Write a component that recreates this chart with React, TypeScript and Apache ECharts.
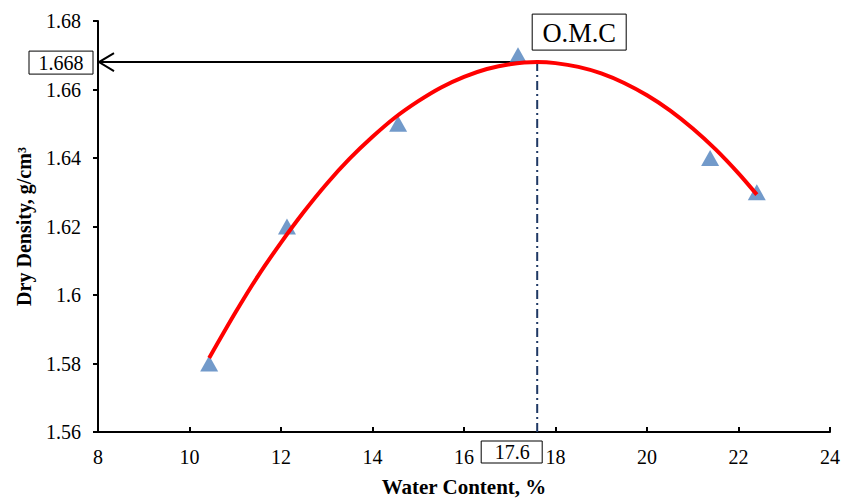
import React, { useEffect, useRef } from "react";
import * as echarts from "echarts";

const waterContent = [10.43, 12.13, 14.56, 17.18, 21.38, 22.4];
const dryDensity = [1.58, 1.62, 1.65, 1.67, 1.64, 1.63];

// fitted trendline
const curveX = [10.43, 11, 11.5, 12, 12.5, 13, 13.5, 14, 14.5, 15, 15.5, 16, 16.5, 17, 17.6, 18, 18.5, 19, 19.5, 20, 20.5, 21, 21.5, 22, 22.4];
const curveY = [1.5816, 1.5948, 1.6056, 1.6153, 1.6243, 1.6325, 1.6398, 1.6462, 1.6519, 1.6566, 1.6606, 1.6637, 1.6660, 1.6674, 1.668, 1.6677, 1.6666, 1.6647, 1.6619, 1.6583, 1.6539, 1.6486, 1.6425, 1.6355, 1.6293];

const OMC = 17.6;
const MDD = 1.668;
const xTicks = [8, 10, 12, 14, 16, 18, 20, 22, 24];
const yTicks = [1.56, 1.58, 1.6, 1.62, 1.64, 1.66, 1.68];

const FONT = "'Liberation Serif', 'Times New Roman', serif";

export default function App() {
  const ref = useRef<HTMLDivElement>(null);
  useEffect(() => {
    const chart = echarts.init(ref.current!, null, { renderer: "svg" });
    const option: any = {
      animation: false,
      textStyle: { fontFamily: FONT },
      grid: { left: 98, right: 12, top: 21, bottom: 66, containLabel: false, outerBoundsMode: "none" },
      xAxis: {
        type: "value",
        min: xTicks[0],
        max: xTicks[xTicks.length - 1],
        interval: 2,
        name: "Water Content, %",
        nameLocation: "middle",
        nameGap: 44,
        nameTextStyle: { fontFamily: FONT, fontWeight: "bold", fontSize: 21, color: "#000" },
        axisLine: { lineStyle: { color: "#000", width: 2 } },
        axisTick: { inside: true, length: 5, lineStyle: { color: "#000", width: 2 } },
        axisLabel: { fontFamily: FONT, fontSize: 20, color: "#000", margin: 15 },
        splitLine: { show: false },
      },
      yAxis: {
        type: "value",
        min: yTicks[0],
        max: yTicks[yTicks.length - 1],
        interval: 0.02,
        name: "Dry Density, g/cm³",
        nameLocation: "middle",
        nameGap: 64,
        nameTextStyle: { fontFamily: FONT, fontWeight: "bold", fontSize: 20, color: "#000" },
        axisLine: { show: true, lineStyle: { color: "#000", width: 2 } },
        axisTick: { show: true, inside: false, length: 5, lineStyle: { color: "#000", width: 2 } },
        axisLabel: {
          fontFamily: FONT,
          fontSize: 20,
          color: "#000",
          margin: 17,
          formatter: (v: number) => String(Number(v.toFixed(2))),
        },
        splitLine: { show: false },
      },
      series: [
        {
          type: "line",
          data: [
            [OMC, MDD],
            [xTicks[0], MDD],
          ],
          symbol: "none",
          lineStyle: { color: "#000", width: 2 },
          z: 3,
        },
        {
          type: "line",
          data: [
            [OMC, yTicks[0]],
            [OMC, MDD],
          ],
          symbol: "none",
          lineStyle: { color: "#1F3864", width: 2, type: [9, 4, 2, 4] },
          z: 3,
        },
        {
          type: "scatter",
          data: waterContent.map((x, i) => [x, dryDensity[i]]),
          symbol: "triangle",
          symbolSize: [18, 16],
          itemStyle: { color: "#4F81BD" },
          z: 4,
        },
        {
          type: "line",
          data: curveX.map((x, i) => [x, curveY[i]]),
          smooth: 0.3,
          symbol: "none",
          lineStyle: { color: "#FF0000", width: 4 },
          z: 5,
        },
      ],
    };
    chart.setOption(option);

    const [px, py] = chart.convertToPixel({ gridIndex: 0 }, [OMC, MDD]);
    const [ax, ay] = chart.convertToPixel({ gridIndex: 0 }, [xTicks[0], MDD]);
    const [bx, by] = chart.convertToPixel({ gridIndex: 0 }, [OMC, yTicks[0]]);

    chart.setOption({
      graphic: [
        {
          type: "polyline",
          shape: { points: [[ax + 16, ay - 9], [ax + 1, ay], [ax + 16, ay + 9]] },
          style: { stroke: "#000", lineWidth: 2, fill: "none" },
          z: 10,
        },
        {
          type: "rect",
          shape: { x: ax - 69, y: ay - 11, width: 64, height: 23 },
          style: { stroke: "#000", lineWidth: 1, fill: "#fff" },
          z: 10,
        },
        {
          type: "text",
          x: ax - 37,
          y: ay + 1,
          style: {
            text: String(MDD),
            font: `20px ${FONT}`,
            fill: "#000",
            align: "center",
            verticalAlign: "middle",
          },
          z: 11,
        },
        {
          type: "rect",
          shape: { x: px - 5, y: py - 48, width: 94, height: 36 },
          style: { stroke: "#000", lineWidth: 1, fill: "#fff" },
          z: 10,
        },
        {
          type: "text",
          x: px + 42,
          y: py - 29,
          style: {
            text: "O.M.C",
            font: `26.5px ${FONT}`,
            fill: "#000",
            align: "center",
            verticalAlign: "middle",
          },
          z: 11,
        },
        {
          type: "rect",
          shape: { x: bx - 56, y: by + 9, width: 61, height: 22 },
          style: { stroke: "#000", lineWidth: 1, fill: "#fff" },
          z: 10,
        },
        {
          type: "text",
          x: bx - 25,
          y: by + 20,
          style: {
            text: String(OMC),
            font: `20px ${FONT}`,
            fill: "#000",
            align: "center",
            verticalAlign: "middle",
          },
          z: 11,
        },
      ],
    });

    return () => chart.dispose();
  }, []);
  return (
    <div
      ref={ref}
      style={{ position: "absolute", left: 0, top: 0, width: 842, height: 498 }}
    />
  );
}
